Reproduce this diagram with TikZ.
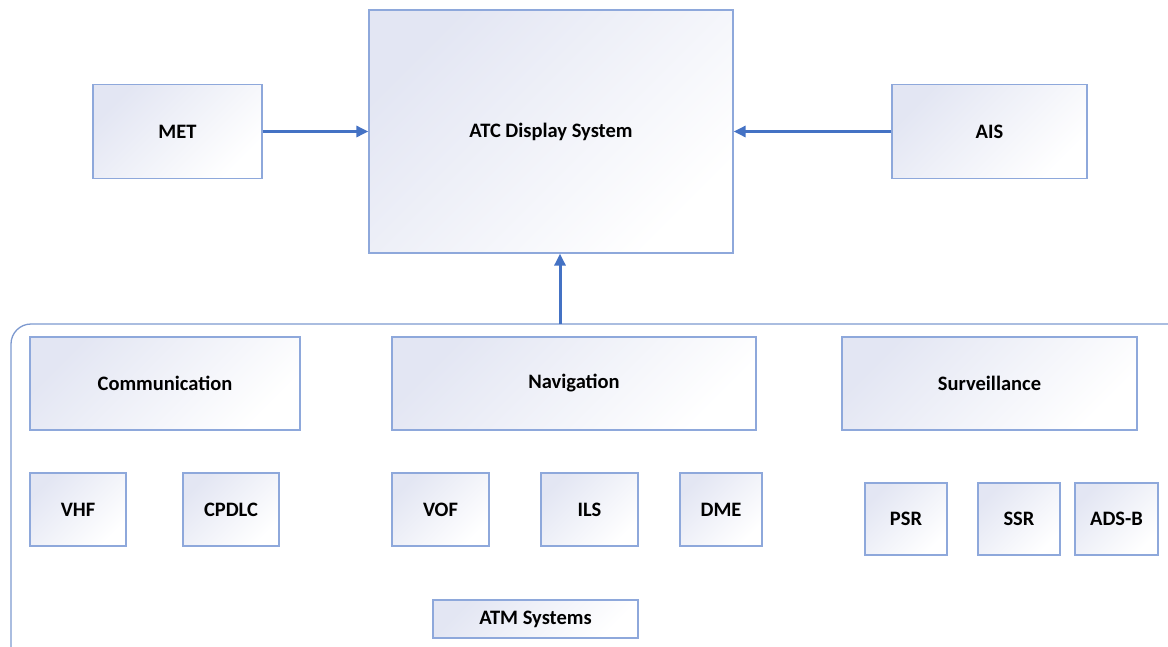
\documentclass[tikz,border=0pt]{standalone}
\usepackage{fontspec}
\setmainfont{Carlito}
\usetikzlibrary{arrows.meta}
\definecolor{boxline}{HTML}{8EA8DB}
\definecolor{boxfill}{HTML}{E3E6F3}
\definecolor{arrowc}{HTML}{4472C4}
\definecolor{contline}{HTML}{7D99CF}
\tikzset{
  box/.style={draw=boxline, line width=1.3pt, inner sep=0pt, shading=axis,
    top color=boxfill, middle color=white, bottom color=white, shading angle=45,
    font=\fontsize{20.5}{24}\selectfont\bfseries, text=black},
  arr/.style={draw=arrowc, line width=3pt, -{Triangle[length=12pt,width=11pt]}},
}
\begin{document}
\begin{tikzpicture}[x=1pt,y=-1pt]
\useasboundingbox (0,0) rectangle (1168,646);
\clip (0,0) rectangle (1168,646);
% container
\draw[contline, line width=1.3pt, rounded corners=20pt] (1175,324) -- (11,324) -- (11,660);
\coordinate (ct) at (560,324);
% top boxes
\node[box, minimum width=364pt, minimum height=243pt] (atc) at (551,131.5) {ATC Display System};
\node[box, minimum width=169pt, minimum height=94pt] (met) at (177.5,131.5) {MET};
\node[box, minimum width=195pt, minimum height=94pt] (ais) at (989.5,131.5) {AIS};
% groups
\node[box, minimum width=270pt, minimum height=93pt] (comm) at (165,383.5) {Communication};
\node[box, minimum width=364pt, minimum height=93pt] (nav) at (574,383.5) {Navigation};
\node[box, minimum width=295pt, minimum height=93pt] (surv) at (989.5,383.5) {Surveillance};
% items
\node[box, minimum width=96pt, minimum height=73pt] (vhf) at (78,509.5) {VHF};
\node[box, minimum width=96pt, minimum height=73pt] (cpdlc) at (231,509.5) {CPDLC};
\node[box, minimum width=97pt, minimum height=73pt] (vof) at (440.5,509.5) {VOF};
\node[box, minimum width=97pt, minimum height=73pt] (ils) at (589.5,509.5) {ILS};
\node[box, minimum width=82pt, minimum height=73pt] (dme) at (721,509.5) {DME};
\node[box, minimum width=82pt, minimum height=72pt] (psr) at (906,519) {PSR};
\node[box, minimum width=82pt, minimum height=72pt] (ssr) at (1019,519) {SSR};
\node[box, minimum width=83pt, minimum height=72pt] (adsb) at (1116.5,519) {ADS-B};
\node[box, minimum width=205pt, minimum height=38pt] (atm) at (535.5,619) {ATM Systems};
% arrows
\draw[arr] (met.east) -- (atc.west);
\draw[arr] (ais.west) -- (atc.east);
\draw[arr] (ct) -- (ct |- atc.south);
\end{tikzpicture}
\end{document}
